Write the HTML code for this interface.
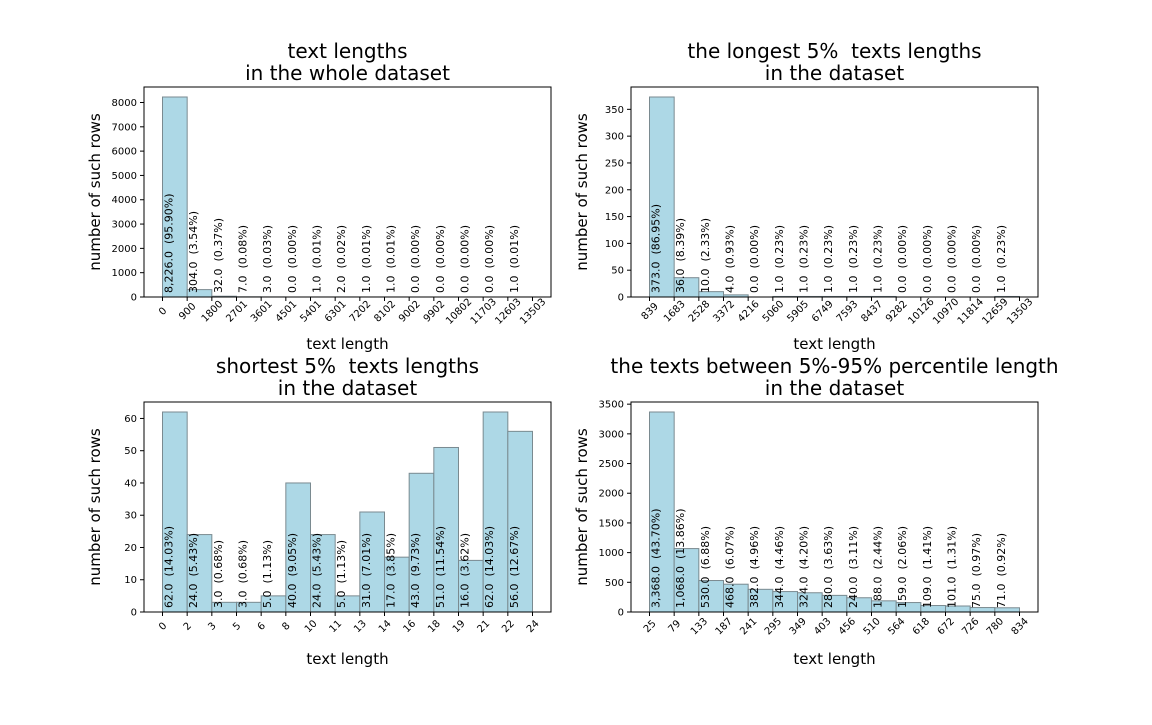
<!DOCTYPE html>
<html><head><meta charset="utf-8"><style>
body{margin:0;background:#fff}
svg text{font-family:"DejaVu Sans","Liberation Sans",sans-serif;fill:#000}
</style></head><body>
<svg id="fig" width="1152" height="720" xmlns="http://www.w3.org/2000/svg"></svg>
<script>
const tlTicks=["0","900","1800","2701","3601","4501","5401","6301","7202","8102","9002","9902","10802","11703","12603","13503"];
const tlValues=[8226,304,32,7,3,0,1,2,1,1,0,0,0,0,1];
const tlPct=["95.90","3.54","0.37","0.08","0.03","0.00","0.01","0.02","0.01","0.01","0.00","0.00","0.00","0.00","0.01"];
const tlYTicks=[0,1000,2000,3000,4000,5000,6000,7000,8000];

const trTicks=["839","1683","2528","3372","4216","5060","5905","6749","7593","8437","9282","10126","10970","11814","12659","13503"];
const trValues=[373,36,10,4,0,1,1,1,1,1,0,0,0,0,1];
const trPct=["86.95","8.39","2.33","0.93","0.00","0.23","0.23","0.23","0.23","0.23","0.00","0.00","0.00","0.00","0.23"];
const trYTicks=[0,50,100,150,200,250,300,350];

const blTicks=["0","2","3","5","6","8","10","11","13","14","16","18","19","21","22","24"];
const blValues=[62,24,3,3,5,40,24,5,31,17,43,51,16,62,56];
const blPct=["14.03","5.43","0.68","0.68","1.13","9.05","5.43","1.13","7.01","3.85","9.73","11.54","3.62","14.03","12.67"];
const blYTicks=[0,10,20,30,40,50,60];

const brTicks=["25","79","133","187","241","295","349","403","456","510","564","618","672","726","780","834"];
const brValues=[3368,1068,530,468,382,344,324,280,240,188,159,109,101,75,71];
const brPct=["43.70","13.86","6.88","6.07","4.96","4.46","4.20","3.63","3.11","2.44","2.06","1.41","1.31","0.97","0.92"];
const brYTicks=[0,500,1000,1500,2000,2500,3000,3500];

const NS="http://www.w3.org/2000/svg";
const svg=document.getElementById('fig');
function mk(tag,attrs,parent,txt){const e=document.createElementNS(NS,tag);for(const k in attrs)e.setAttribute(k,attrs[k]);if(txt!==undefined)e.textContent=txt;(parent||svg).appendChild(e);return e;}
function fmt(v){return v.toLocaleString('en-US',{minimumFractionDigits:1,maximumFractionDigits:1});}

function panel(name,L,T,title1,title2,ticks,values,pct,yticks){
  const W=407,H=210,R=L+W,B=T+H;
  const g=mk('g',{});
  
  
  const n=values.length;
  const ymax=Math.max(...values)*1.05;
  const x0=L+W*0.05/1.1, x1=R-W*0.05/1.1;
  const xs=i=>x0+(x1-x0)*i/n;
  const ys=v=>B-H*v/ymax;
  for(let i=0;i<n;i++){
    const r=mk('rect',{x:xs(i),y:ys(values[i]),width:xs(i+1)-xs(i),height:B-ys(values[i]),fill:'#add8e6',stroke:'#7a8a90','stroke-width':1},g);
    
    
  }
  for(let i=0;i<n;i++){
    const tx=xs(i)+10, ty=B-4;
    const t=mk('text',{x:tx,y:ty,'font-size':11,transform:`rotate(-90 ${tx} ${ty})`},g,fmt(values[i])+'  ('+pct[i]+'%)');
    
    
    t.style.whiteSpace='pre';
  }
  const f=mk('rect',{x:L,y:T,width:W,height:H,fill:'none',stroke:'#000','stroke-width':1},g);
  
  
  ticks.forEach((lab,i)=>{
    const x=xs(i);
    mk('line',{x1:x,y1:B,x2:x,y2:B+4,stroke:'#000'},g);
    const tg=mk('g',{transform:`translate(${x} ${B+14}) rotate(-45)`},g);
    const t=mk('text',{x:0,y:3.5,'font-size':10,'text-anchor':'middle'},tg,lab);
    
    
  });
  yticks.forEach(v=>{
    const y=ys(v);
    mk('line',{x1:L-4,y1:y,x2:L,y2:y,stroke:'#000'},g);
    const t=mk('text',{x:L-7,y:y+3.5,'font-size':10,'text-anchor':'end'},g,String(v));
    
    
  });
  const xl=mk('text',{x:L+W/2,y:B+52,'font-size':15,'text-anchor':'middle'},g,'text length');
  
  
  const yx=L-44,yy=T+H/2;
  const yl=mk('text',{x:yx,y:yy,'font-size':15,'text-anchor':'middle',transform:`rotate(-90 ${yx} ${yy})`},g,'number of such rows');
  
  
  const t1=mk('text',{x:L+W/2,y:T-29,'font-size':20,'text-anchor':'middle'},g,title1);
  
  
  t1.style.whiteSpace='pre';
  const t2=mk('text',{x:L+W/2,y:T-7,'font-size':20,'text-anchor':'middle'},g,title2);
  
  
}
panel('whole-dataset-histogram',144,87,'text lengths','in the whole dataset',tlTicks,tlValues,tlPct,tlYTicks);
panel('longest-histogram',631,87,'the longest 5%  texts lengths','in the dataset',trTicks,trValues,trPct,trYTicks);
panel('shortest-histogram',144,402,'shortest 5%  texts lengths','in the dataset',blTicks,blValues,blPct,blYTicks);
panel('middle-histogram',631,402,'the texts between 5%-95% percentile length','in the dataset',brTicks,brValues,brPct,brYTicks);
</script>
</body></html>
